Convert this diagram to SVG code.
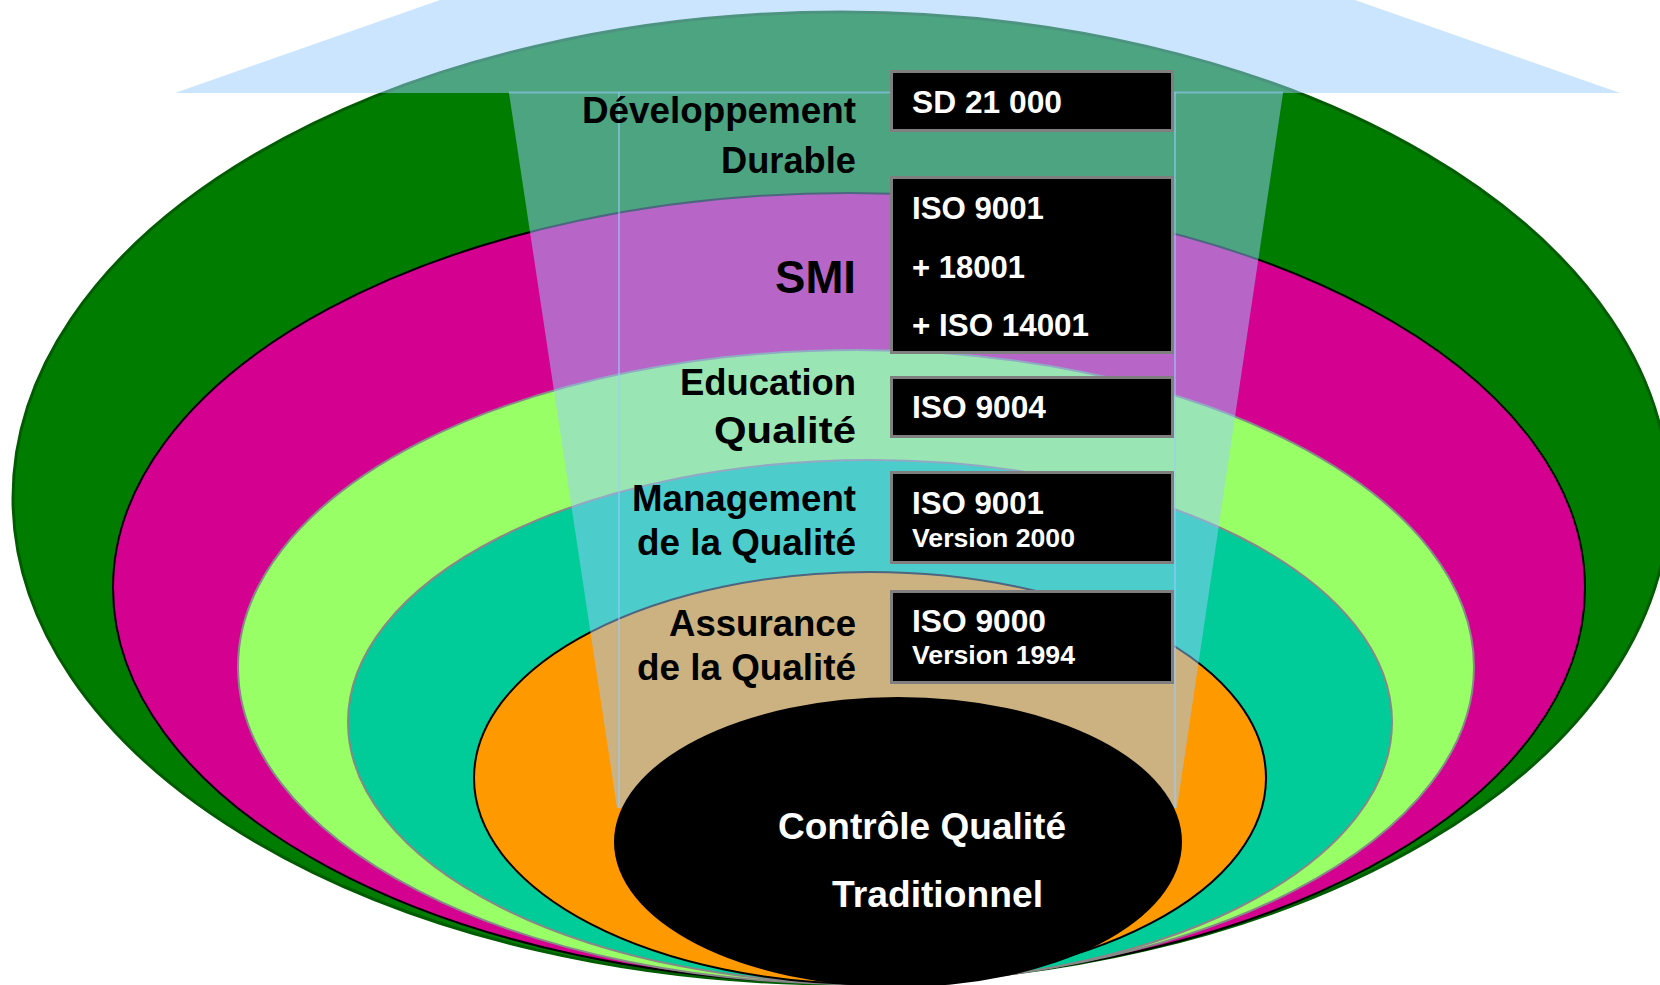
<svg xmlns="http://www.w3.org/2000/svg" width="1660" height="985" viewBox="0 0 1660 985">
<style>
.lbl{font-family:"Liberation Sans",Arial,sans-serif;font-weight:bold;fill:#000;text-anchor:end}
.bt{font-family:"Liberation Sans",Arial,sans-serif;font-weight:bold;fill:#fff}
.box{fill:#000;stroke:#7f7f7f;stroke-width:3}
</style>
<rect width="1660" height="985" fill="#fff"/>
<g id="bands">
<ellipse id="band-dd" cx="841" cy="498" rx="828" ry="486" fill="#007d00" stroke="#005c00" stroke-width="3"/>
<ellipse id="band-smi" cx="849" cy="588" rx="736" ry="395" fill="#d4008f" stroke="#000" stroke-width="2"/>
<ellipse id="band-edu" cx="856" cy="667" rx="618" ry="317" fill="#99ff66" stroke="#888" stroke-width="2"/>
<ellipse id="band-mq" cx="870" cy="722" rx="522" ry="262" fill="#00cc99" stroke="#888" stroke-width="2"/>
<ellipse id="band-aq" cx="870" cy="778" rx="396" ry="206" fill="#ff9900" stroke="#000" stroke-width="2"/>
</g>
<g id="arrow">
<polygon points="440,0 1355,0 1620,93 1283,93 1177,808 617,808 509,93 175,93" fill="#99ccff" fill-opacity="0.5"/>
<polyline points="509,92.5 1283,92.5" fill="none" stroke="#99ccff" stroke-opacity="0.55" stroke-width="2"/>
<polyline points="619,92.5 619,808" fill="none" stroke="#99ccff" stroke-opacity="0.55" stroke-width="2"/>
<polyline points="1175,92.5 1175,808" fill="none" stroke="#99ccff" stroke-opacity="0.55" stroke-width="2"/>
</g>
<g id="node-cq">
<ellipse cx="898" cy="842" rx="284" ry="145" fill="#000"/>
<text class="bt" x="778" y="839" font-size="37" textLength="288" lengthAdjust="spacingAndGlyphs">Contrôle Qualité</text>
<text class="bt" x="832" y="907" font-size="37" textLength="211" lengthAdjust="spacingAndGlyphs">Traditionnel</text>
</g>
<g id="node-dd">
<text class="lbl" x="856" y="123" font-size="36" textLength="274" lengthAdjust="spacingAndGlyphs">Développement</text>
<text class="lbl" x="856" y="173" font-size="36" textLength="135" lengthAdjust="spacingAndGlyphs">Durable</text>
<rect class="box" x="891.5" y="71.5" width="281" height="59"/>
<text class="bt" x="912" y="113" font-size="31.5" textLength="150" lengthAdjust="spacingAndGlyphs">SD 21 000</text>
</g>
<g id="node-smi">
<text class="lbl" x="856" y="293" font-size="46" textLength="81" lengthAdjust="spacingAndGlyphs">SMI</text>
<rect class="box" x="891.5" y="177.5" width="281" height="175"/>
<text class="bt" x="912" y="219" font-size="31.5" textLength="132" lengthAdjust="spacingAndGlyphs">ISO 9001</text>
<text class="bt" x="912" y="278" font-size="31.5" textLength="113" lengthAdjust="spacingAndGlyphs">+ 18001</text>
<text class="bt" x="912" y="336" font-size="31.5" textLength="177" lengthAdjust="spacingAndGlyphs">+ ISO 14001</text>
</g>
<g id="node-edu">
<text class="lbl" x="856" y="395" font-size="36" textLength="176" lengthAdjust="spacingAndGlyphs">Education</text>
<text class="lbl" x="856" y="443" font-size="37" textLength="142" lengthAdjust="spacingAndGlyphs">Qualité</text>
<rect class="box" x="891.5" y="377.5" width="281" height="59"/>
<text class="bt" x="912" y="418" font-size="31.5" textLength="134" lengthAdjust="spacingAndGlyphs">ISO 9004</text>
</g>
<g id="node-mq">
<text class="lbl" x="856" y="511" font-size="36" textLength="224" lengthAdjust="spacingAndGlyphs">Management</text>
<text class="lbl" x="856" y="555" font-size="36" textLength="219" lengthAdjust="spacingAndGlyphs">de la Qualité</text>
<rect class="box" x="891.5" y="472.5" width="281" height="90"/>
<text class="bt" x="912" y="514" font-size="31.5" textLength="132" lengthAdjust="spacingAndGlyphs">ISO 9001</text>
<text class="bt" x="912" y="547" font-size="26" textLength="163" lengthAdjust="spacingAndGlyphs">Version 2000</text>
</g>
<g id="node-aq">
<text class="lbl" x="856" y="636" font-size="36" textLength="187" lengthAdjust="spacingAndGlyphs">Assurance</text>
<text class="lbl" x="856" y="680" font-size="36" textLength="219" lengthAdjust="spacingAndGlyphs">de la Qualité</text>
<rect class="box" x="891.5" y="591.5" width="281" height="91"/>
<text class="bt" x="912" y="632" font-size="31.5" textLength="134" lengthAdjust="spacingAndGlyphs">ISO 9000</text>
<text class="bt" x="912" y="664" font-size="26" textLength="163" lengthAdjust="spacingAndGlyphs">Version 1994</text>
</g>
</svg>
